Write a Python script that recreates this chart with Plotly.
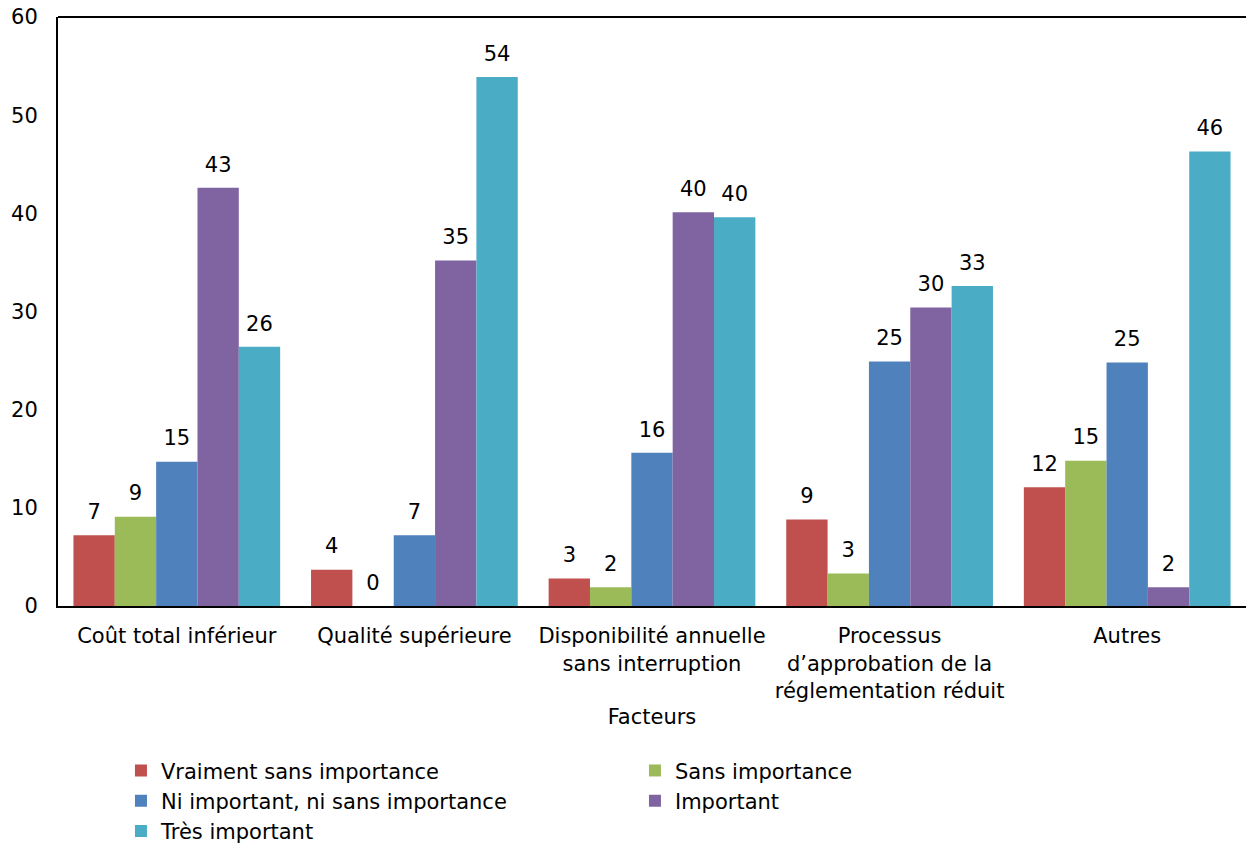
import plotly.graph_objects as go

categories = [
    "Coût total inférieur",
    "Qualité supérieure",
    "Disponibilité annuelle<br>sans interruption",
    "Processus<br>d’approbation de la<br>réglementation réduit",
    "Autres",
]
series_names = [
    "Vraiment sans importance",
    "Sans importance",
    "Ni important, ni sans importance",
    "Important",
    "Très important",
]
vraiment_sans = [7.2, 3.7, 2.8, 8.8, 12.1]
sans = [9.1, 0.0, 1.9, 3.3, 14.8]
ni_ni = [14.7, 7.2, 15.6, 24.9, 24.8]
important = [42.6, 35.2, 40.1, 30.4, 1.9]
tres_important = [26.4, 53.9, 39.6, 32.6, 46.3]
labels = [
    ["7", "4", "3", "9", "12"],
    ["9", "0", "2", "3", "15"],
    ["15", "7", "16", "25", "25"],
    ["43", "35", "40", "30", "2"],
    ["26", "54", "40", "33", "46"],
]
colors = ["#C0504D", "#9BBB59", "#4F81BD", "#8064A2", "#4BACC6"]
values = [vraiment_sans, sans, ni_ni, important, tres_important]

FONT = "DejaVu Sans, Verdana, sans-serif"
FS = 21

fig = go.Figure()
for name, vals, col in zip(series_names, values, colors):
    fig.add_trace(go.Bar(
        name=name, x=categories, y=vals,
        marker=dict(color=col, line=dict(width=0)),
        cliponaxis=False,
    ))
for name, vals, lab in zip(series_names, values, labels):
    fig.add_trace(go.Scatter(
        name=name, x=categories, y=vals, text=lab, mode="markers+text",
        textposition="top center", textfont=dict(size=FS, color="black", family=FONT),
        marker=dict(size=16, opacity=0), showlegend=False, hoverinfo="skip",
        cliponaxis=False,
    ))

fig.update_layout(
    width=1246, height=848,
    margin=dict(l=58, r=0, t=17, b=242, autoexpand=False),
    paper_bgcolor="white", plot_bgcolor="white",
    barmode="group", bargap=0.13, bargroupgap=0,
    scattermode="group", scattergap=0.13,
    font=dict(family=FONT, size=FS, color="black"),
    showlegend=True,
    legend=dict(
        orientation="h", x=0.053, xanchor="left", y=-0.245, yanchor="top",
        entrywidth=469, entrywidthmode="pixels",
        font=dict(size=FS, family=FONT), traceorder="normal",
        itemwidth=30,
    ),
    xaxis=dict(
        showline=True, linecolor="black", linewidth=2, ticks="",
        title=dict(text="Facteurs", font=dict(size=FS), standoff=8),
        tickfont=dict(size=FS), ticklabelstandoff=10, automargin=False,
    ),
    yaxis=dict(
        range=[0, 60], dtick=10, showgrid=False, zeroline=False,
        showline=True, linecolor="black", linewidth=2, ticks="",
        tickfont=dict(size=FS), ticklabelstandoff=14, automargin=False,
    ),
    shapes=[dict(type="line", xref="paper", yref="paper", x0=0, x1=1, y0=1, y1=1,
                 line=dict(color="black", width=2))],
)

fig.write_html("out.html", config={"displayModeBar": False},
               post_script="document.body.style.margin='0';")
